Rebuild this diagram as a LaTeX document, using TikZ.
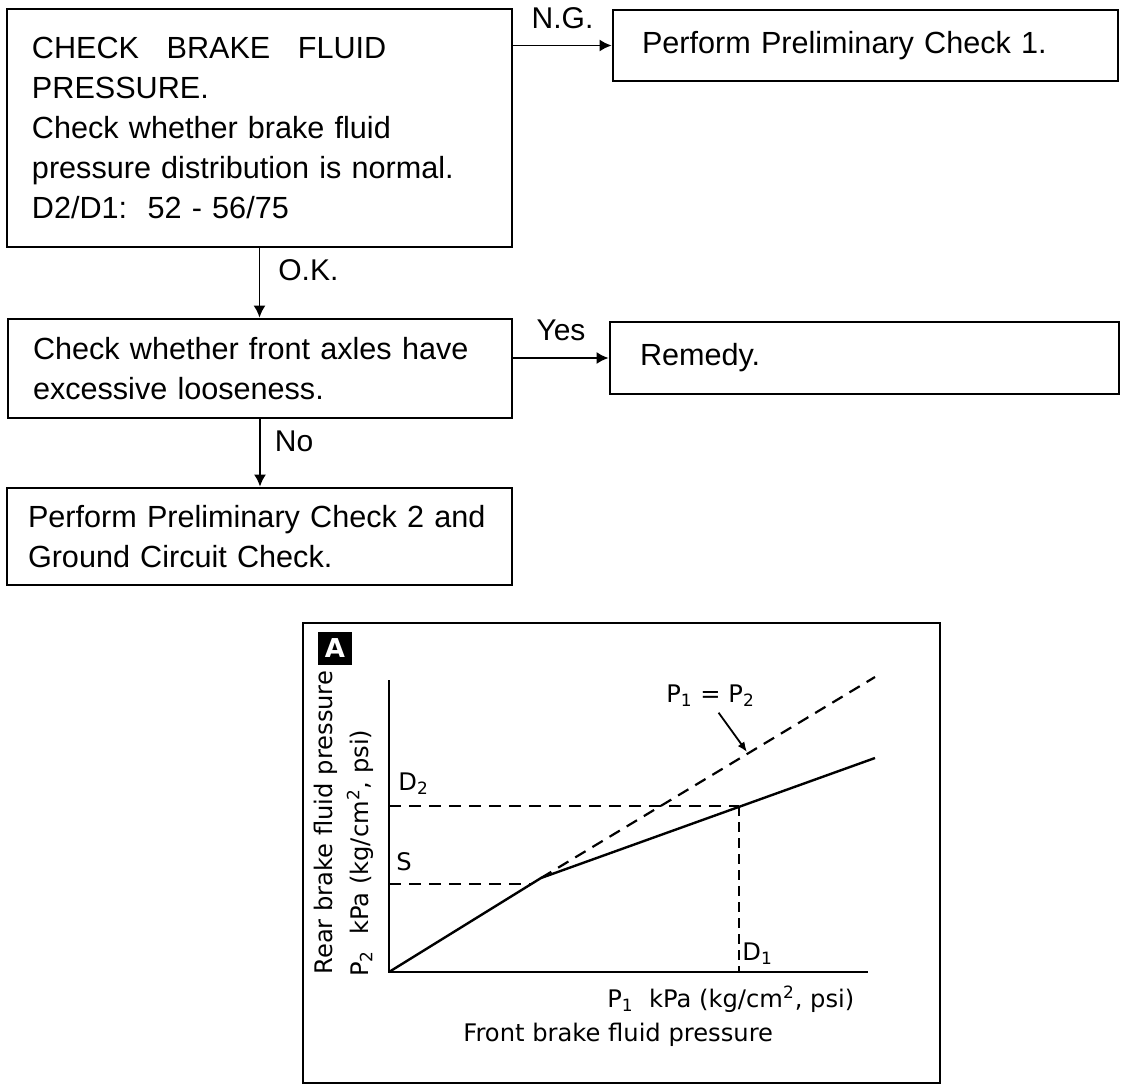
\documentclass[tikz,border=0pt]{standalone}
\usepackage{fontspec}
\setmainfont{Liberation Sans}
\newfontfamily\chartfont{DejaVu Sans}
\usetikzlibrary{arrows.meta}
\begin{document}
\begin{tikzpicture}[x=0.5pt,y=-0.5pt,
  fbox/.style={draw, line width=1.4pt, align=left, inner ysep=0pt, font=\fontsize{15.3}{20}\selectfont},
  conn/.style={line width=0.9pt, -{Latex[length=6pt,width=6pt]}},
  lbl/.style={font=\fontsize{15}{18}\selectfont, inner sep=0pt},
  ctext/.style={font=\chartfont\fontsize{12.1}{14}\selectfont, inner sep=0pt},
  cline/.style={line width=1.2pt},
  cdash/.style={line width=1.1pt, dash pattern=on 6pt off 4pt},
  vdash/.style={line width=0.9pt, dash pattern=on 5pt off 3pt},
]
\useasboundingbox (0,0) rectangle (1136,1092);

% ---------- flowchart ----------
\node[fbox, text width=227.5pt, inner xsep=12.5pt, minimum height=119pt] (b1) at (259.5,128)
  {CHECK\hspace{0.9em}BRAKE\hspace{0.9em}FLUID\\PRESSURE.\\Check whether brake fluid\\pressure distribution is normal.\\D2/D1:\ \ 52 - 56/75};
\node[fbox, text width=223.5pt, inner xsep=14.5pt, minimum height=35.5pt] (ng) at (865.5,45.5)
  {Perform Preliminary Check 1.};
\node[fbox, text width=227pt, inner xsep=12.5pt, minimum height=49.5pt] (b2) at (260,368.5)
  {Check whether front axles have\\excessive looseness.};
\node[fbox, text width=224.5pt, inner xsep=15pt, minimum height=36pt] (rem) at (864.5,358)
  {Remedy.};
\node[fbox, text width=231.5pt, inner xsep=10.5pt, minimum height=48.5pt] (b3) at (259.5,536.5)
  {Perform Preliminary Check 2 and\\Ground Circuit Check.};

\draw[conn] (ng.west -| b1.east) -- node[lbl, pos=0.5, above=8pt] {N.G.} (ng.west);
\draw[conn] (rem.west -| b2.east) -- node[lbl, pos=0.5, above=8pt] {Yes} (rem.west);
\draw[conn] (b1.south) -- node[lbl, pos=0.32, right=9pt] {O.K.} (b1.south |- b2.north);
\draw[conn] (b2.south) -- node[lbl, pos=0.33, right=7pt] {No} (b2.south |- b3.north);

% ---------- chart ----------
\draw[line width=1pt] (303,623) rectangle (940,1083);
\node[fill=black, minimum width=17pt, minimum height=16.5pt, inner sep=0pt, text=white,
      font=\chartfont\bfseries\fontsize{13}{13}\selectfont] (A) at (335,648.5) {A};

\coordinate (O) at (389,972);
\coordinate (yend) at (389,680);
\coordinate (xend) at (868,972);
\draw[line width=1.1pt] (yend) -- (O) -- (xend);

\coordinate (K) at (541,878);
\coordinate (solidend) at (875,758);
\coordinate (dashend) at (875,677);
\draw[cline] (O) -- (K) -- (solidend);
\draw[cdash] (K) -- (dashend);

\coordinate (sy) at (389,884);
\coordinate (sx) at (530,884);
\draw[cdash] (sy) -- (sx);

\coordinate (d2y) at (389,806);
\coordinate (d12) at (739,806);
\coordinate (d1x) at (739,972);
\draw[cdash] (d2y) -- (d12);
\draw[vdash] (d12) -- (d1x);

\node[ctext, anchor=base west] (d2) at (398,790) {D\textsubscript{2}};
\node[ctext, anchor=base west] (s) at (396,870) {S};
\node[ctext, anchor=base west] (d1) at (742,960) {D\textsubscript{1}};
\node[ctext, anchor=base west] (eq) at (666,702) {P\textsubscript{1} = P\textsubscript{2}};
\coordinate (eqtip) at (747,752);
\draw[line width=0.9pt, -{Latex[length=5pt,width=4pt]}] ([shift={(4pt,-3pt)}]eq.south) -- (eqtip);

\node[ctext, anchor=base west] (xl) at (607,1007) {P\textsubscript{1}\ \ kPa (kg/cm\textsuperscript{2}, psi)};
\node[ctext, anchor=base west] (xt) at (463,1041) {Front brake fluid pressure};
\node[ctext, rotate=90, anchor=base west] (yt) at (332,975) {Rear brake fluid pressure};
\node[ctext, rotate=90, anchor=base west] (yl) at (368,977) {P\textsubscript{2}\ \ kPa (kg/cm\textsuperscript{2}, psi)};
\end{tikzpicture}
\end{document}
